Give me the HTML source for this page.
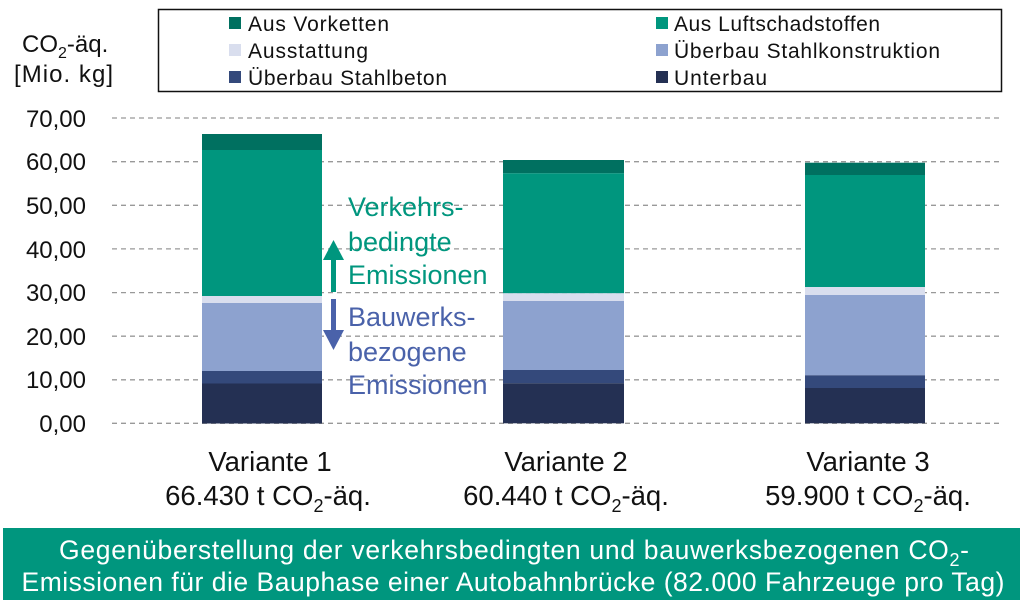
<!DOCTYPE html>
<html><head><meta charset="utf-8"><style>
body{margin:0;background:#fff;}
svg{display:block;font-family:"Liberation Sans",sans-serif;}
</style></head><body>
<svg width="1024" height="614" viewBox="0 0 1024 614">
<g stroke="#999" stroke-width="1.3" stroke-dasharray="5,4">
<line x1="112" y1="118" x2="1003" y2="118"/>
<line x1="112" y1="161.7" x2="1003" y2="161.7"/>
<line x1="112" y1="205.3" x2="1003" y2="205.3"/>
<line x1="112" y1="248.9" x2="1003" y2="248.9"/>
<line x1="112" y1="292.6" x2="1003" y2="292.6"/>
<line x1="112" y1="336.2" x2="1003" y2="336.2"/>
<line x1="112" y1="379.8" x2="1003" y2="379.8"/>
<line x1="112" y1="423.3" x2="1003" y2="423.3"/>
</g>
<g font-size="24" fill="#111" text-anchor="end">
<text x="86" y="127">70,00</text><text x="86" y="170">60,00</text><text x="86" y="214">50,00</text>
<text x="86" y="258">40,00</text><text x="86" y="301">30,00</text><text x="86" y="345">20,00</text>
<text x="86" y="388">10,00</text><text x="86" y="432">0,00</text>
</g>
<text x="22" y="52" font-size="24" fill="#111">CO<tspan font-size="16" dy="6">2</tspan><tspan dy="-6">-äq.</tspan></text>
<text x="14" y="82" font-size="24" fill="#111" textLength="99">[Mio. kg]</text>
<g>
<rect x="202" y="134" width="120" height="16" fill="#007060"/>
<rect x="202" y="150" width="120" height="146" fill="#00967E"/>
<rect x="202" y="296" width="120" height="7" fill="#D9DEEE"/>
<rect x="202" y="303" width="120" height="68" fill="#8DA2CF"/>
<rect x="202" y="371" width="120" height="12.5" fill="#34497B"/>
<rect x="202" y="383.5" width="120" height="40" fill="#243053"/>

<rect x="503" y="160" width="121" height="13.3" fill="#007060"/>
<rect x="503" y="173.3" width="121" height="120" fill="#00967E"/>
<rect x="503" y="293.3" width="121" height="7.7" fill="#D9DEEE"/>
<rect x="503" y="301" width="121" height="69" fill="#8DA2CF"/>
<rect x="503" y="370" width="121" height="13.3" fill="#34497B"/>
<rect x="503" y="383.3" width="121" height="40" fill="#243053"/>

<rect x="805" y="162.7" width="120" height="12.3" fill="#007060"/>
<rect x="805" y="175" width="120" height="112" fill="#00967E"/>
<rect x="805" y="287" width="120" height="8" fill="#D9DEEE"/>
<rect x="805" y="295" width="120" height="80.3" fill="#8DA2CF"/>
<rect x="805" y="375.3" width="120" height="12.7" fill="#34497B"/>
<rect x="805" y="388" width="120" height="35.3" fill="#243053"/>
</g>
<rect x="331" y="258" width="5" height="34" fill="#00967E"/>
<polygon points="323,260 344,260 333.5,240" fill="#00967E"/>
<rect x="331" y="299" width="5" height="33" fill="#4A62AA"/>
<polygon points="323,330 344,330 333.5,350" fill="#4A62AA"/>
<g font-size="27" fill="#00967E">
<text x="348" y="216">Verkehrs-</text><text x="348" y="251">bedingte</text><text x="348" y="284">Emissionen</text>
</g>
<g font-size="27" fill="#4A62AA">
<text x="348" y="326">Bauwerks-</text><text x="348" y="361">bezogene</text><text x="348" y="394">Emissionen</text>
</g>
<rect x="158.5" y="9.5" width="843" height="82" fill="#fff" stroke="#111" stroke-width="1.5"/>
<rect x="229" y="17" width="12" height="12" fill="#007060"/>
<rect x="229" y="44" width="12" height="12" fill="#D9DEEE"/>
<rect x="229" y="71" width="12" height="12" fill="#34497B"/>
<rect x="656" y="17" width="12" height="12" fill="#00967E"/>
<rect x="656" y="44" width="12" height="12" fill="#8DA2CF"/>
<rect x="656" y="71" width="12" height="12" fill="#243053"/>
<g font-size="21" fill="#111">
<text x="248" y="31" textLength="141">Aus Vorketten</text><text x="248" y="58" textLength="120">Ausstattung</text><text x="248" y="85" textLength="199">Überbau Stahlbeton</text>
<text x="674" y="31" textLength="206">Aus Luftschadstoffen</text><text x="674" y="58" textLength="266">Überbau Stahlkonstruktion</text><text x="674" y="85" textLength="93">Unterbau</text>
</g>
<g font-size="27.5" fill="#111" text-anchor="middle">
<text x="270" y="471">Variante 1</text>
<text x="268" y="505">66.430 t CO<tspan font-size="18" dy="7">2</tspan><tspan dy="-7">-äq.</tspan></text>
<text x="566" y="471">Variante 2</text>
<text x="566" y="505">60.440 t CO<tspan font-size="18" dy="7">2</tspan><tspan dy="-7">-äq.</tspan></text>
<text x="868" y="471">Variante 3</text>
<text x="868" y="505">59.900 t CO<tspan font-size="18" dy="7">2</tspan><tspan dy="-7">-äq.</tspan></text>
</g>
<rect x="3" y="528" width="1017" height="72" fill="#00967E"/>
<g font-size="26.5" fill="#fff" text-anchor="middle">
<text x="514" y="559" textLength="910">Gegenüberstellung der verkehrsbedingten und bauwerksbezogenen CO<tspan font-size="18" dy="7">2</tspan><tspan dy="-7">-</tspan></text>
<text x="513" y="591" textLength="983">Emissionen für die Bauphase einer Autobahnbrücke (82.000 Fahrzeuge pro Tag)</text>
</g>
</svg>
</body></html>
